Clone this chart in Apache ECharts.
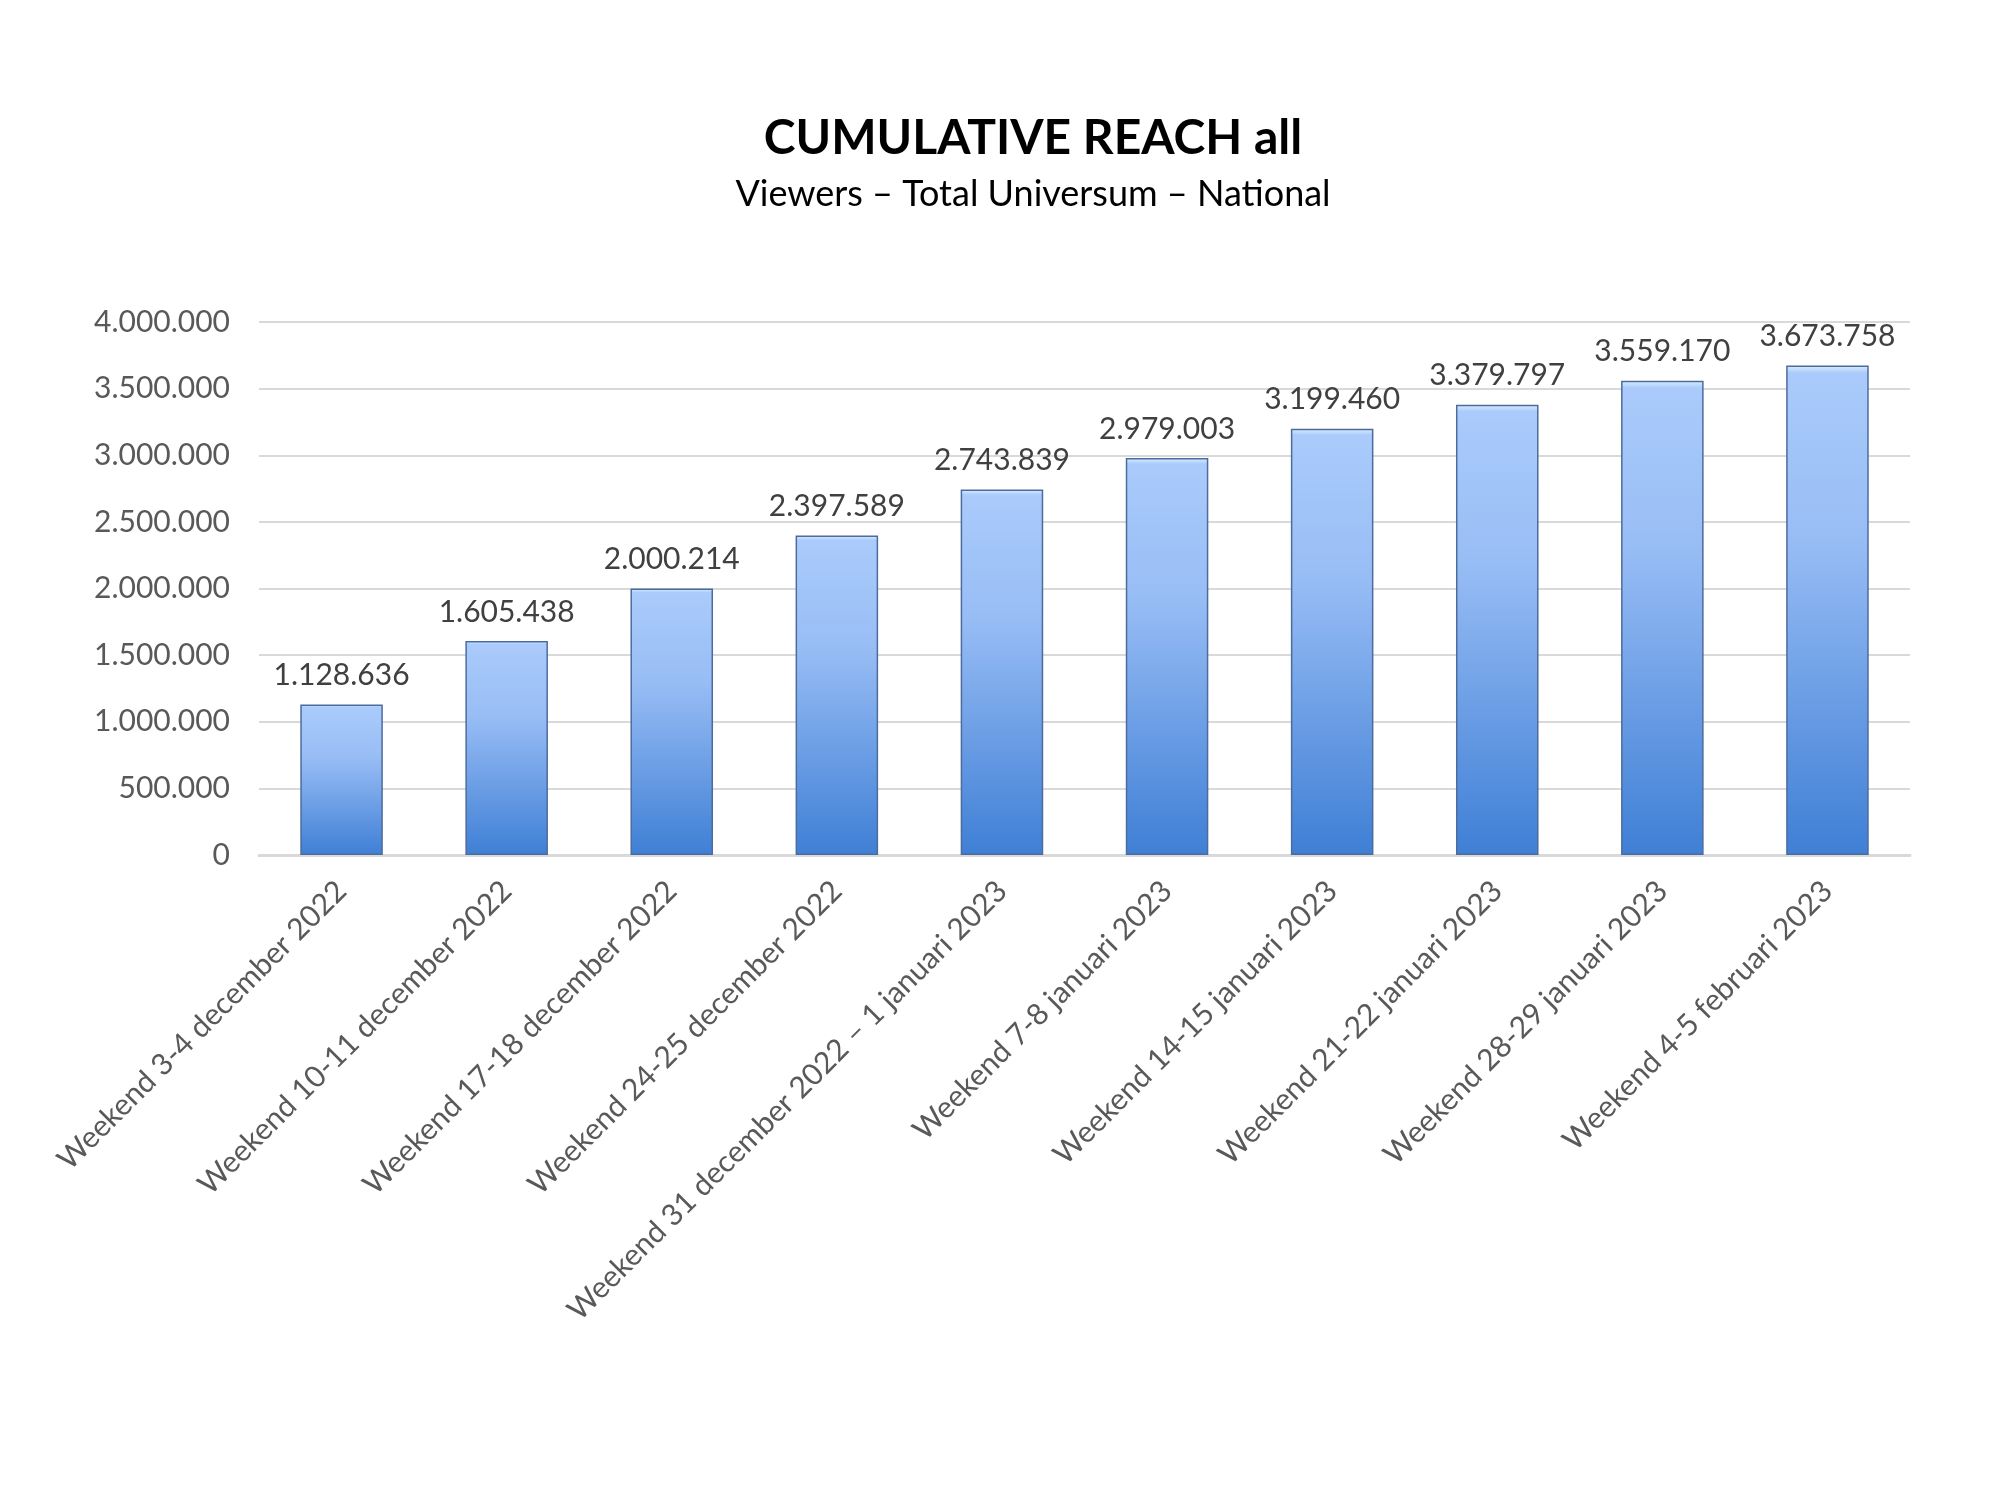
<!DOCTYPE html>
<html><head><meta charset="utf-8">
<script src="https://cdn.jsdelivr.net/npm/echarts@6/dist/echarts.min.js"></script>
<style>html,body{margin:0;padding:0;background:#fff}#c{width:2000px;height:1499px}</style>
</head><body><div id="c"></div>
<script>
const categories = [
  "Weekend 3-4 december 2022",
  "Weekend 10-11 december 2022",
  "Weekend 17-18 december 2022",
  "Weekend 24-25 december 2022",
  "Weekend 31 december 2022 – 1 januari 2023",
  "Weekend 7-8 januari 2023",
  "Weekend 14-15 januari 2023",
  "Weekend 21-22 januari 2023",
  "Weekend 28-29 januari 2023",
  "Weekend 4-5 februari 2023"
];
const reach = [1128636, 1605438, 2000214, 2397589, 2743839, 2979003, 3199460, 3379797, 3559170, 3673758];
const titleText = "CUMULATIVE REACH all";
const subtitleText = "Viewers – Total Universum – National";

function fmt(v){ return String(Math.round(v)).replace(/\B(?=(\d{3})+(?!\d))/g, "."); }
const FONT = "Lato";
const chart = echarts.init(document.getElementById('c'));
chart.setOption({
  animation:false,
  backgroundColor:'#fff',
  title:[
    {text:titleText,left:1028,top:110,textAlign:'center',textStyle:{fontFamily:FONT,fontWeight:'bold',fontSize:48,color:'#000'}},
    {text:subtitleText,left:1028,top:171,textAlign:'center',textStyle:{fontFamily:FONT,fontWeight:'normal',fontSize:36,color:'#000'}}
  ],
  grid:{left:259,right:90,top:322,bottom:644,containLabel:false},
  xAxis:{
    type:'category',data:categories,
    axisLine:{show:true,lineStyle:{color:'#d9d9d9',width:3}},
    axisTick:{show:false},
    axisLabel:{rotate:45,margin:31,fontFamily:FONT,fontSize:30,color:'#595959',interval:0}
  },
  yAxis:{
    type:'value',min:0,max:4000000,interval:500000,
    axisLine:{show:false},axisTick:{show:false},
    splitLine:{lineStyle:{color:'#d9d9d9',width:2}},
    axisLabel:{margin:29,fontFamily:FONT,fontSize:30,color:'#595959',formatter:fmt}
  },
  series:[{
    type:'bar',data:reach,barWidth:'50%',
    itemStyle:{
      color:{type:'linear',x:0,y:0,x2:0,y2:1,colorStops:[
        {offset:0,color:'#dcefff'},
        {offset:0.015,color:'#aacbfb'},
        {offset:0.35,color:'#98bdf5'},
        {offset:1,color:'#3f7fd5'}
      ]},
      borderColor:'#4d6c9e',borderWidth:1.5
    },
    label:{show:true,position:'top',distance:14,fontFamily:FONT,fontSize:30,color:'#404040',formatter:p=>fmt(p.value)}
  }]
});
</script></body></html>
